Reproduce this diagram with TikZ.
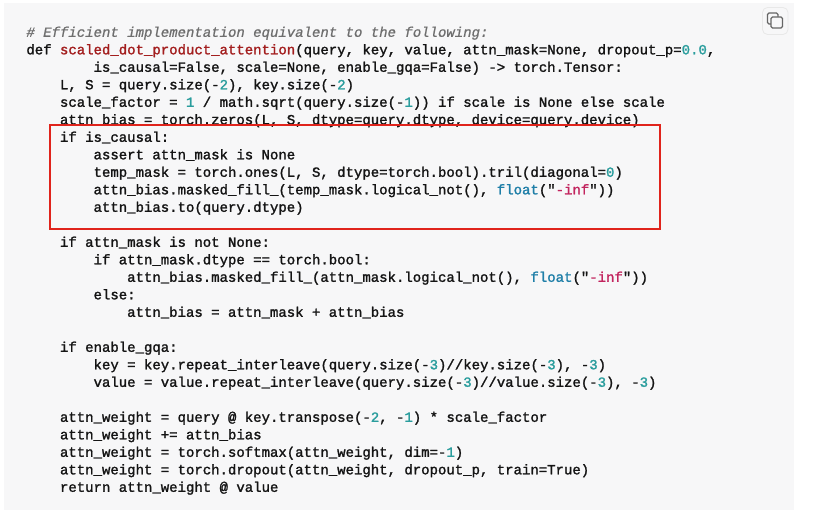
\documentclass[tikz,border=0pt]{standalone}
\usepackage{fontspec}
\newfontfamily\codefont{Liberation Mono}[FakeBold=1.6]
\newfontfamily\commentfont{Liberation Mono}[FakeBold=0.8,ItalicFont={Liberation Mono Italic}]
\definecolor{panelbg}{HTML}{F7F7F8}
\definecolor{codetext}{HTML}{141414}
\definecolor{cmt}{HTML}{6E6E6E}
\definecolor{fname}{HTML}{A31E1E}
\definecolor{strc}{HTML}{C2245E}
\definecolor{numc}{HTML}{2A9D9D}
\definecolor{builtin}{HTML}{1F7FA8}
\definecolor{frame}{HTML}{E0241C}
\definecolor{btnline}{HTML}{E8E8E8}
\definecolor{icon}{HTML}{666666}
\tikzset{
  codeline/.style={anchor=base west,inner sep=0pt,outer sep=0pt,text=codetext,font=\fontsize{14}{14}\selectfont\codefont},
  cmtline/.style={anchor=base west,inner sep=0pt,outer sep=0pt,text=cmt,font=\fontsize{14}{14}\selectfont\commentfont\itshape},
  highlight/.style={draw=frame,line width=2pt},
  copybtn/.style={draw=btnline,line width=0.8pt,rounded corners=5pt,fill=panelbg},
  copyglyph/.style={draw=icon,line width=1.1pt,rounded corners=1.5pt}
}
\newcommand{\codeat}[4][codeline]{\node[#1] (l#2) at ({26.4+8.4*#3},{36.8+17.5*#2}) {#4};}
\newcommand{\fn}[1]{\textcolor{fname}{#1}}
\newcommand{\num}[1]{\textcolor{numc}{#1}}
\newcommand{\bi}[1]{\textcolor{builtin}{#1}}
\newcommand{\str}[1]{"\textcolor{strc}{#1}"}
\frenchspacing
\begin{document}
\begin{tikzpicture}[x=1pt,y=-1pt]
\useasboundingbox (0,0) rectangle (834,510);
\fill[white] (0,0) rectangle (834,510);
\fill[panelbg] (4,3) rectangle (794,510);
\codeat[cmtline]{0}{0}{\# Efficient implementation equivalent to the following:}
\codeat{1}{0}{def \fn{scaled\_dot\_product\_attention}(query, key, value, attn\_mask=None, dropout\_p=\num{0.0},}
\codeat{2}{8}{is\_causal=False, scale=None, enable\_gqa=False) -> torch.Tensor:}
\codeat{3}{4}{L, S = query.size(-\num{2}), key.size(-\num{2})}
\codeat{4}{4}{scale\_factor = \num{1} / math.sqrt(query.size(-\num{1})) if scale is None else scale}
\codeat{5}{4}{attn\_bias = torch.zeros(L, S, dtype=query.dtype, device=query.device)}
\codeat{6}{4}{if is\_causal:}
\codeat{7}{8}{assert attn\_mask is None}
\codeat{8}{8}{temp\_mask = torch.ones(L, S, dtype=torch.bool).tril(diagonal=\num{0})}
\codeat{9}{8}{attn\_bias.masked\_fill\_(temp\_mask.logical\_not(), \bi{float}(\str{-inf}))}
\codeat{10}{8}{attn\_bias.to(query.dtype)}
\codeat{12}{4}{if attn\_mask is not None:}
\codeat{13}{8}{if attn\_mask.dtype == torch.bool:}
\codeat{14}{12}{attn\_bias.masked\_fill\_(attn\_mask.logical\_not(), \bi{float}(\str{-inf}))}
\codeat{15}{8}{else:}
\codeat{16}{12}{attn\_bias = attn\_mask + attn\_bias}
\codeat{18}{4}{if enable\_gqa:}
\codeat{19}{8}{key = key.repeat\_interleave(query.size(-\num{3})//key.size(-\num{3}), -\num{3})}
\codeat{20}{8}{value = value.repeat\_interleave(query.size(-\num{3})//value.size(-\num{3}), -\num{3})}
\codeat{22}{4}{attn\_weight = query @ key.transpose(-\num{2}, -\num{1}) * scale\_factor}
\codeat{23}{4}{attn\_weight += attn\_bias}
\codeat{24}{4}{attn\_weight = torch.softmax(attn\_weight, dim=-\num{1})}
\codeat{25}{4}{attn\_weight = torch.dropout(attn\_weight, dropout\_p, train=True)}
\codeat{26}{4}{return attn\_weight @ value}
\draw[highlight] (49.5,125.5) rectangle (659.5,229.5);
\draw[copybtn] (762.5,7.5) rectangle (788,34.5);
\draw[copyglyph] (767.5,13) rectangle (778,24);
\draw[copyglyph,fill=panelbg] (771,17) rectangle (782.5,28);
\end{tikzpicture}
\end{document}
